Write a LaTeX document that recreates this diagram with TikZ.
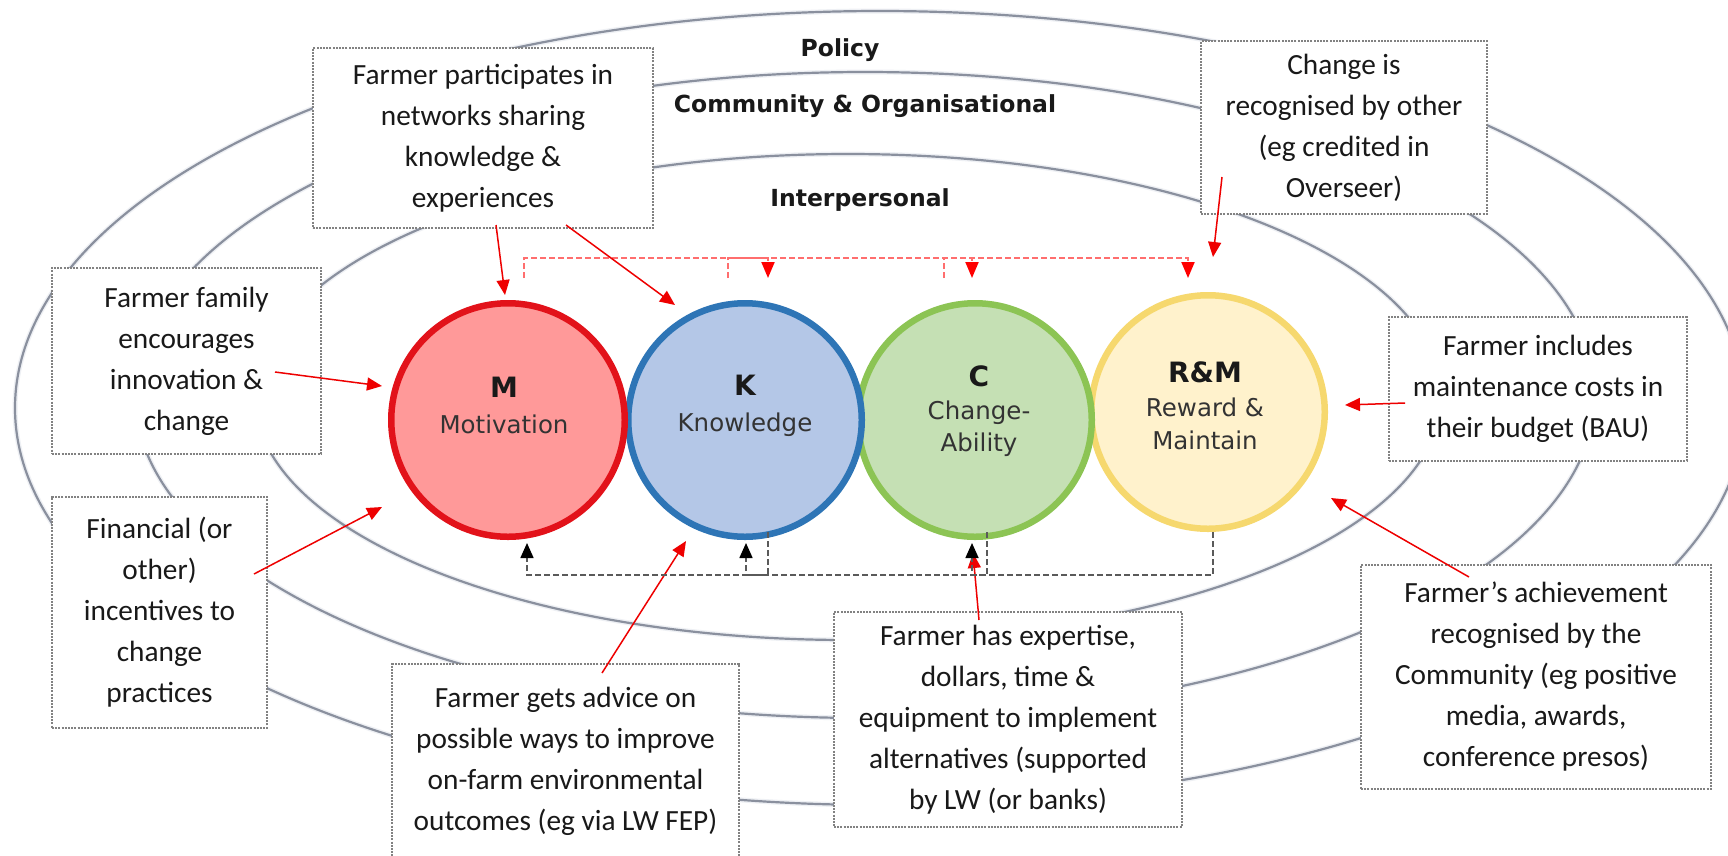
\documentclass[tikz,border=0pt]{standalone}
\usepackage{fontspec}
\setmainfont{Carlito}
\newfontfamily\lblfont{DejaVu Sans}
\usetikzlibrary{arrows.meta}
\definecolor{ringline}{RGB}{138,144,158}
\definecolor{ringhalo}{RGB}{238,240,244}
\definecolor{boxline}{RGB}{130,130,130}
\definecolor{mfill}{RGB}{255,153,153}
\definecolor{mline}{RGB}{226,18,26}
\definecolor{kfill}{RGB}{180,199,231}
\definecolor{kline}{RGB}{46,117,182}
\definecolor{cfill}{RGB}{197,224,180}
\definecolor{cline}{RGB}{140,196,84}
\definecolor{rfill}{RGB}{255,242,204}
\definecolor{rline}{RGB}{246,216,110}
\definecolor{arrowred}{RGB}{238,0,0}
\definecolor{dashred}{RGB}{255,110,110}
\definecolor{dashgray}{RGB}{90,90,90}
\begin{document}
\begin{tikzpicture}[x=1pt,y=-1pt,
  ring/.style={draw=ringline, line width=2.2pt},
  halo/.style={draw=ringhalo, line width=5pt},
  notebox/.style={draw=boxline, line width=1.1pt, dash pattern=on 2pt off 1.2pt,
    fill=white, align=center, inner sep=0pt,
    font=\fontsize{29.3}{41}\selectfont, text=black!90},
  wheel/.style={circle, line width=6.5pt, minimum size=233.5pt, inner sep=0pt},
  pointer/.style={draw=arrowred, line width=1.5pt, -{Triangle[length=15pt,width=13pt]}},
  loopred/.style={draw=dashred, line width=2pt, dash pattern=on 6pt off 3pt,
    -{Triangle[length=16pt,width=13pt,color=red]}},
  loopgray/.style={draw=dashgray, line width=1.6pt, dash pattern=on 6pt off 3pt,
    -{Triangle[length=15pt,width=13pt,color=black]}},
  ringtxt/.style={font=\lblfont\bfseries\fontsize{23.5}{28}\selectfont, text=black!90, anchor=base},
  circtxt/.style={font=\lblfont\fontsize{24.5}{28}\selectfont, text=black!80, anchor=base},
  initial/.style={font=\lblfont\bfseries\fontsize{28}{32}\selectfont, text=black!90, anchor=base},
]
\useasboundingbox (0,0) rectangle (1728,855);
\fill[white] (0,0) rectangle (1728,855);

% the three nested levels, with a soft shadow under each outline
\draw[halo] (880,408) ellipse [x radius=865, y radius=397];
\draw[halo] (865,395) ellipse [x radius=730, y radius=323];
\draw[halo] (848,397) ellipse [x radius=593, y radius=243];
\draw[ring] (880,408) ellipse [x radius=865, y radius=397];
\draw[ring] (865,395) ellipse [x radius=730, y radius=323];
\draw[ring] (848,397) ellipse [x radius=593, y radius=243];

\node[ringtxt] (pol) at (840,56) {Policy};
\node[ringtxt] (com) at (865,112) {Community \& Organisational};
\node[ringtxt] (inter) at (860,206) {Interpersonal};

% the four stages
\node[wheel, draw=rline, fill=rfill] (R) at (1208,412) {};
\node[wheel, draw=cline, fill=cfill] (C) at (975,420) {};
\node[wheel, draw=kline, fill=kfill] (K) at (745,420) {};
\node[wheel, draw=mline, fill=mfill] (M) at (508,420) {};

\node[initial] (Mi) at (504,397) {M};
\node[circtxt] (Mw) at (504,433) {Motivation};
\node[initial] (Ki) at (745,395) {K};
\node[circtxt] (Kw) at (745,431) {Knowledge};
\node[initial] (Ci) at (979,386) {C};
\node[circtxt] (Cw1) at (979,419) {Change-};
\node[circtxt] (Cw2) at (979,451) {Ability};
\node[initial] (Ri) at (1205,382) {R\&M};
\node[circtxt] (Rw1) at (1205,416) {Reward \&};
\node[circtxt] (Rw2) at (1205,449) {Maintain};

% feed-forward links above the stages
\coordinate (mUp) at (524,278);  \coordinate (kDown) at (768,278);
\coordinate (kUp) at (728,278);  \coordinate (cDown) at (972,278);
\coordinate (cUp) at (944,278);  \coordinate (rDown) at (1188,278);
\draw[loopred] (mUp) -- ++(0,-20) -| (kDown);
\draw[loopred] (kUp) -- ++(0,-20) -| (cDown);
\draw[loopred] (cUp) -- ++(0,-20) -| (rDown);

% text boxes
\node[notebox, minimum width=340, minimum height=180] (part) at (483,138)
  {Farmer participates in\\networks sharing\\knowledge \&\\experiences};
\node[notebox, minimum width=286, minimum height=173] (recog) at (1344,127.5)
  {Change is\\recognised by other\\(eg credited in\\Overseer)};
\node[notebox, minimum width=269, minimum height=186] (fam) at (186.5,361)
  {Farmer family\\encourages\\innovation \&\\change};
\node[notebox, minimum width=215, minimum height=231] (fin) at (159.5,612.5)
  {Financial (or\\other)\\incentives to\\change\\practices};
\node[notebox, minimum width=347, minimum height=194] (adv) at (565.5,761)
  {Farmer gets advice on\\possible ways to improve\\on-farm environmental\\outcomes (eg via LW FEP)};
\node[notebox, minimum width=348, minimum height=215] (exp) at (1008,719.5)
  {Farmer has expertise,\\dollars, time \&\\equipment to implement\\alternatives (supported\\by LW (or banks)};
\node[notebox, minimum width=298, minimum height=144] (bud) at (1538,389)
  {Farmer includes\\maintenance costs in\\their budget (BAU)};
\node[notebox, minimum width=350, minimum height=224] (ach) at (1536,677)
  {Farmer’s achievement\\recognised by the\\Community (eg positive\\media, awards,\\conference presos)};

% influences pointing at the stages
\coordinate (partA) at (496,225); \coordinate (mTop) at (505,295);
\coordinate (partB) at (566,225); \coordinate (kTop) at (675,305);
\coordinate (recogA) at (1222,177); \coordinate (rTop) at (1213,257);
\coordinate (famA) at (275,372); \coordinate (mLeft) at (382,386);
\coordinate (finA) at (254,574); \coordinate (mLow) at (382,507);
\coordinate (advA) at (602,673); \coordinate (kLow) at (686,541);
\coordinate (expA) at (979,620); \coordinate (cLow) at (973,553);
\coordinate (budA) at (1405,403); \coordinate (rRight) at (1345,405);
\coordinate (achA) at (1469,577); \coordinate (rLow) at (1331,498);
\draw[pointer] (partA) -- (mTop);
\draw[pointer] (partB) -- (kTop);
\draw[pointer] (recogA) -- (rTop);
\draw[pointer] (famA) -- (mLeft);
\draw[pointer] (finA) -- (mLow);
\draw[pointer] (advA) -- (kLow);
\draw[pointer] (expA) -- (cLow);
\draw[pointer] (budA) -- (rRight);
\draw[pointer] (achA) -- (rLow);

% feedback links below the stages
\coordinate (kOut) at (768,532); \coordinate (mIn) at (527,543);
\coordinate (cOut) at (987,532); \coordinate (kIn) at (746,543);
\coordinate (rOut) at (1213,532); \coordinate (cIn) at (972,543);
\draw[loopgray] (kOut) -- (768,575) -| (mIn);
\draw[loopgray] (cOut) -- (987,575) -| (kIn);
\draw[loopgray] (rOut) -- (1213,575) -| (cIn);
\end{tikzpicture}
\end{document}
